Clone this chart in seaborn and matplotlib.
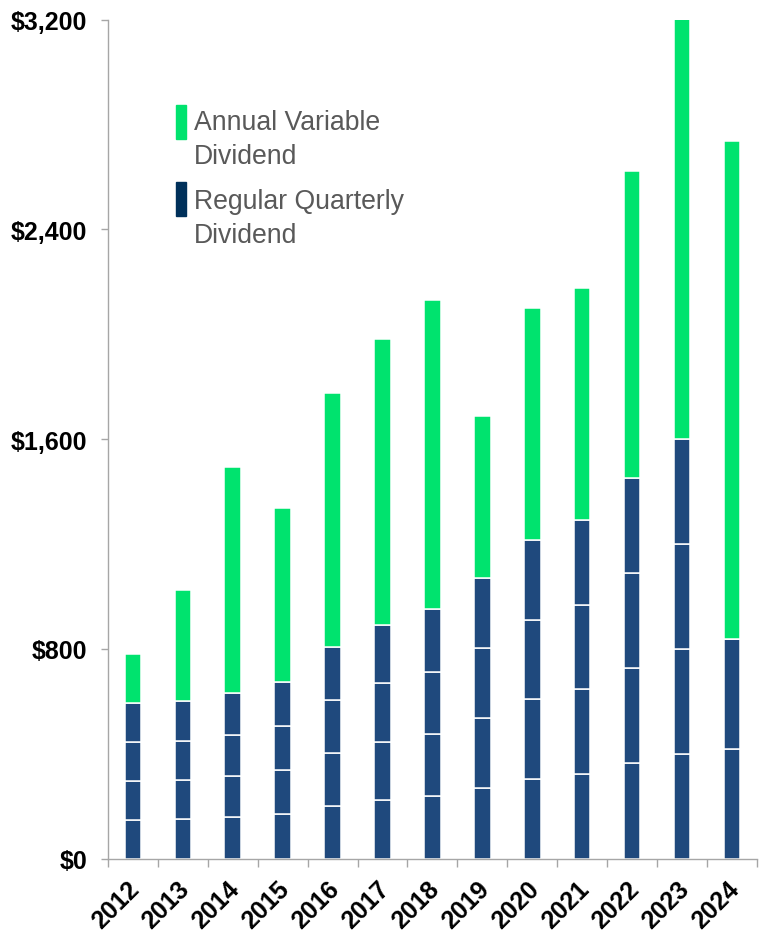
import numpy as np
import pandas as pd
import seaborn as sns
import matplotlib.pyplot as plt
import matplotlib.transforms as mtransforms
from matplotlib.patches import Rectangle
from matplotlib.ticker import FuncFormatter

# Values ($)
years = ['2012', '2013', '2014', '2015', '2016', '2017', '2018',
         '2019', '2020', '2021', '2022', '2023', '2024']
# regular quarterly payments (2024 only has two quarters so far)
q1 = [148, 150, 157.5, 168, 201.5, 223, 237.5, 267.5, 303.5, 322.5, 362.5, 400, 418]
q2 = [148, 150, 157.5, 168, 201.5, 223, 237.5, 267.5, 303.5, 322.5, 362.5, 400, 418]
q3 = [148, 150, 157.5, 168, 201.5, 223, 237.5, 267.5, 303.5, 322.5, 362.5, 400, 0]
q4 = [148, 150, 157.5, 168, 201.5, 223, 237.5, 267.5, 303.5, 322.5, 362.5, 400, 0]
variable = [190, 426, 864, 667, 970, 1091, 1180, 618, 886, 887, 1173, 1601, 1902]

yticks = [0, 800, 1600, 2400, 3200]

df = pd.DataFrame({'year': years, 'q1': q1, 'q2': q2, 'q3': q3, 'q4': q4,
                   'variable': variable})

navy = '#1F497D'
navy_legend = '#00305A'
green = '#00E36E'
axis_grey = '#A6A6A6'
text_grey = '#595959'

sns.set_style('ticks')
plt.rcParams['font.family'] = ['Liberation Sans', 'DejaVu Sans']

fig = plt.figure(figsize=(7.6, 9.37), dpi=100)
ax = fig.add_axes([0.142, 0.0827, 0.854, 0.8952])

bar_kws = dict(width=0.33, edgecolor='white', linewidth=1.1,
               saturation=1, errorbar=None, ax=ax)

# stack the four quarterly payments, then the variable dividend on top
bottom = np.zeros(len(years))
for col in ['q1', 'q2', 'q3', 'q4']:
    sns.barplot(data=df, x='year', y=col, bottom=bottom.copy(), color=navy, **bar_kws)
    bottom += df[col].values
sns.barplot(data=df, x='year', y='variable', bottom=bottom.copy(), color=green, **bar_kws)

ax.set_xlim(-0.5, len(years) - 0.5)
ax.set_ylim(0, 3200)
ax.set_yticks(yticks)
ax.yaxis.set_major_formatter(FuncFormatter(lambda v, p: f'${v:,.0f}'))
ax.set_xlabel('')
ax.set_ylabel('')

for side in ['top', 'right']:
    ax.spines[side].set_visible(False)
for side in ['left', 'bottom']:
    ax.spines[side].set_color(axis_grey)
    ax.spines[side].set_linewidth(1.0)

# x ticks sit between the bars, labels under the bars
ax.set_xticks(np.arange(-0.5, len(years), 1), minor=True)
ax.tick_params(axis='x', which='major', length=0, pad=19)
ax.tick_params(axis='x', which='minor', length=6, width=1.0, color=axis_grey, direction='out')
ax.tick_params(axis='y', length=5, width=1.0, color=axis_grey, direction='out', pad=10)

nudge = mtransforms.ScaledTranslation(3 / 100, 0, fig.dpi_scale_trans)
for lab in ax.get_xticklabels():
    lab.set_rotation(45)
    lab.set_ha('right')
    lab.set_va('center')
    lab.set_rotation_mode('anchor')
    lab.set_fontsize(18)
    lab.set_fontweight('bold')
    lab.set_color('black')
    lab.set_transform(lab.get_transform() + nudge)
for lab in ax.get_yticklabels():
    lab.set_fontsize(18)
    lab.set_fontweight('bold')
    lab.set_color('black')

# legend: thin colour swatches with two-line labels
legend_items = [(green, 'Annual Variable\nDividend', 0.8578, 0.8292),
                (navy_legend, 'Regular Quarterly\nDividend', 0.7658, 0.7355)]
for col, label, y0, ytxt in legend_items:
    ax.add_patch(Rectangle((0.1048, y0), 0.0154, 0.0405, transform=ax.transAxes,
                           color=col, clip_on=False))
    ax.text(0.1325, ytxt, label, transform=ax.transAxes, fontsize=19.2,
            color=text_grey, va='baseline', ha='left', linespacing=1.4)

fig.savefig('out.png', dpi=100)
